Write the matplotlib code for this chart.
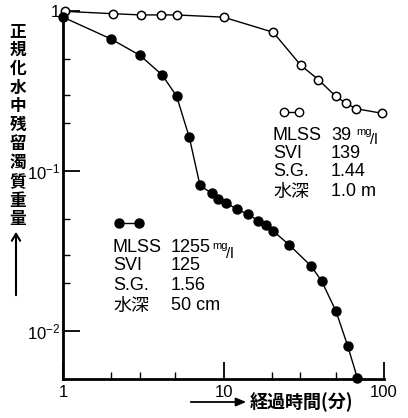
import matplotlib
matplotlib.use('Agg')
import matplotlib.pyplot as plt
from matplotlib.ticker import FixedLocator, NullFormatter

# open circles: MLSS 39 mg/l, depth 1.0 m
t_open = [1.03, 2.06, 3.05, 4.06, 5.1, 10.0, 20.4, 30.3, 39.0, 50.0, 57.7, 67.0, 97.6]
w_open = [1.0, 0.967, 0.95, 0.95, 0.95, 0.92, 0.74, 0.46, 0.374, 0.294, 0.267, 0.246, 0.23]

# filled circles: MLSS 1255 mg/l, depth 50 cm
t_fill = [1.0, 1.99, 3.02, 4.15, 5.1, 6.12, 7.14, 8.44, 9.28, 10.4, 12.1, 14.3, 16.5,
          18.4, 20.4, 25.7, 35.1, 40.9, 50.2, 59.4, 68.2]
w_fill = [0.92, 0.672, 0.53, 0.40, 0.295, 0.163, 0.0814, 0.0726, 0.0672, 0.0635, 0.0576,
          0.0536, 0.0487, 0.0458, 0.0422, 0.0345, 0.0255, 0.0205, 0.0133, 0.00806, 0.00508]

x_major = [1, 10, 100]
x_labels = ['1', '10', '100']
x_minor = [2, 3, 5, 20, 30, 50]
y_major = [1, 0.1, 0.01]
y_labels = ['1', r'$10^{-1}$', r'$10^{-2}$']
y_minor = [0.5, 0.3, 0.2, 0.05, 0.03, 0.02]

legend_open = [('MLSS', '39'), ('SVI', '139'), ('S.G.', '1.44'), ('水深', '1.0 m')]
legend_fill = [('MLSS', '1255'), ('SVI', '125'), ('S.G.', '1.56'), ('水深', '50 cm')]

W, H = 408, 418
fam = ['Liberation Sans', 'Noto Sans CJK JP', 'DejaVu Sans']
jp = ['Noto Sans CJK JP', 'DejaVu Sans']
plt.rcParams['mathtext.fontset'] = 'custom'
plt.rcParams['mathtext.rm'] = 'Liberation Sans'
plt.rcParams['mathtext.it'] = 'Liberation Sans'
plt.rcParams['mathtext.default'] = 'rm'

fig = plt.figure(figsize=(W / 100, H / 100), dpi=100)
ax = fig.add_axes([63 / W, 1 - 379 / H, (384 - 63) / W, (379 - 10) / H])
ax.set_xscale('log')
ax.set_yscale('log')
ax.set_xlim(1, 100)
ax.set_ylim(0.005, 1.02)

ax.plot(t_open, w_open, color='black', lw=1, marker='o', ms=6,
        mfc='white', mec='black', mew=1.1, clip_on=False, zorder=3)
ax.plot(t_fill, w_fill, color='black', lw=1, marker='o', ms=6.5,
        mfc='black', mec='black', clip_on=False, zorder=3)

for s in ['top', 'right']:
  ax.spines[s].set_visible(False)
for s in ['left', 'bottom']:
  ax.spines[s].set_linewidth(2)

ax.xaxis.set_major_locator(FixedLocator(x_major))
ax.xaxis.set_minor_locator(FixedLocator(x_minor))
ax.set_xticklabels(x_labels)
ax.xaxis.set_minor_formatter(NullFormatter())
ax.yaxis.set_major_locator(FixedLocator(y_major))
ax.yaxis.set_minor_locator(FixedLocator(y_minor))
ax.set_yticklabels(y_labels)
ax.yaxis.set_minor_formatter(NullFormatter())
ax.tick_params(which='major', direction='in', length=12, width=1.3, labelsize=12, pad=4)
ax.tick_params(axis='y', which='major', pad=2)
ax.tick_params(which='minor', direction='in', length=5, width=1)
for lab in ax.get_xticklabels() + ax.get_yticklabels():
  lab.set_family(fam)

def px(x, y):
  return x / W, 1 - y / H

# legend block for open circles
fig.lines.append(plt.Line2D([284 / W, 299 / W], [1 - 112 / H] * 2, transform=fig.transFigure,
                            color='black', lw=1, marker='o', ms=6, mfc='white', mec='black'))
ys = [135, 153, 172, 192]
for (k, v), y in zip(legend_open, ys):
  fig.text(*px(273, y), k, family=fam, fontsize=13, va='center', ha='left')
  fig.text(*px(331, y), v, family=fam, fontsize=13, va='center', ha='left')
fig.text(*px(356, 132), 'mg', family=fam, fontsize=8, va='center', ha='left')
fig.text(*px(370, 140), '/l', family=fam, fontsize=11, va='center', ha='left')

# legend block for filled circles
fig.lines.append(plt.Line2D([119 / W, 139 / W], [1 - 223 / H] * 2, transform=fig.transFigure,
                            color='black', lw=1, marker='o', ms=6.5, mfc='black', mec='black'))
ys = [247, 266, 285, 306]
for (k, v), y in zip(legend_fill, ys):
  fig.text(*px(113, y), k, family=fam, fontsize=13, va='center', ha='left')
  fig.text(*px(171, y), v, family=fam, fontsize=13, va='center', ha='left')
fig.text(*px(212, 246), 'mg', family=fam, fontsize=8, va='center', ha='left')
fig.text(*px(226, 254), '/l', family=fam, fontsize=11, va='center', ha='left')

# vertical y label with arrow
fig.text(*px(18, 22), '\n'.join('正規化水中残留濁質重量'), family=jp, fontsize=12,
         fontweight='bold', ha='center', va='top', linespacing=1.06)
fig.add_artist(matplotlib.patches.FancyArrowPatch(px(16, 298), px(16, 229),
               transform=fig.transFigure, arrowstyle='->,head_width=3,head_length=5',
               color='black', lw=1.5))

# x label with arrow
fig.add_artist(matplotlib.patches.FancyArrowPatch(px(188, 402), px(249, 402),
               transform=fig.transFigure, arrowstyle='-|>,head_width=2.5,head_length=6',
               color='black', lw=1.3))
fig.text(*px(250, 402), '経過時間(分)', family=jp, fontsize=13, fontweight='bold',
         ha='left', va='center')

fig.savefig('out.png', dpi=100)
